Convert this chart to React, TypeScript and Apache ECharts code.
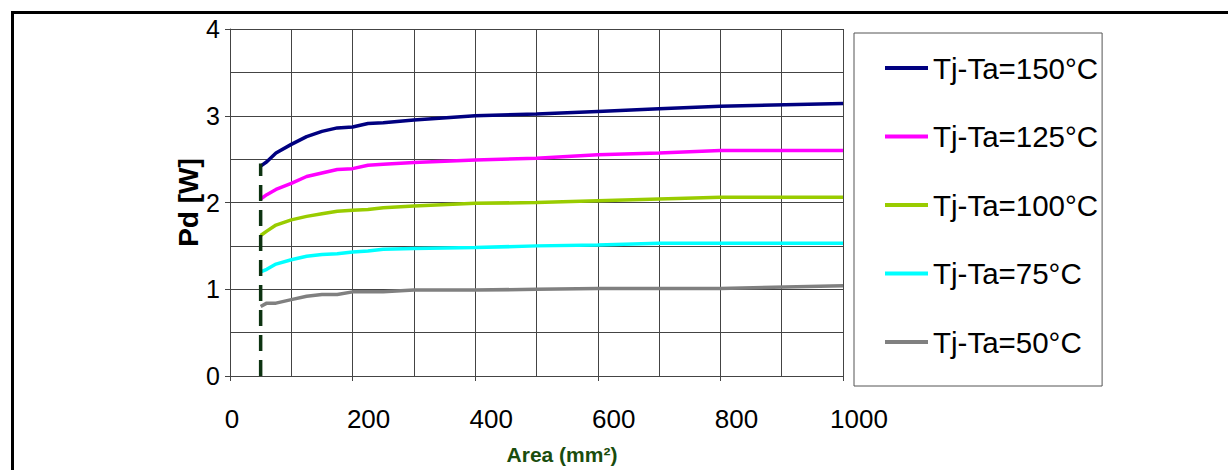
import React, { useEffect, useRef } from "react";
import * as echarts from "echarts";

const areas = [50, 60, 75, 100, 125, 150, 175, 200, 225, 250, 300, 400, 500, 600, 700, 800, 1000];
const pd150 = [2.42, 2.47, 2.57, 2.67, 2.76, 2.82, 2.86, 2.87, 2.91, 2.92, 2.95, 3.0, 3.02, 3.05, 3.08, 3.11, 3.14];
const pd125 = [2.04, 2.09, 2.15, 2.22, 2.3, 2.34, 2.38, 2.39, 2.43, 2.44, 2.46, 2.49, 2.51, 2.55, 2.57, 2.6, 2.6];
const pd100 = [1.62, 1.67, 1.74, 1.8, 1.84, 1.87, 1.9, 1.91, 1.92, 1.94, 1.96, 1.99, 2.0, 2.02, 2.04, 2.06, 2.06];
const pd75 = [1.2, 1.23, 1.29, 1.34, 1.38, 1.4, 1.41, 1.43, 1.44, 1.46, 1.47, 1.48, 1.5, 1.51, 1.53, 1.53, 1.53];
const pd50 = [0.8, 0.84, 0.84, 0.88, 0.92, 0.94, 0.94, 0.97, 0.97, 0.97, 0.99, 0.99, 1.0, 1.01, 1.01, 1.01, 1.04];
const seriesNames = ["Tj-Ta=150°C", "Tj-Ta=125°C", "Tj-Ta=100°C", "Tj-Ta=75°C", "Tj-Ta=50°C"];
const seriesColors = ["#000080", "#FF00FF", "#99CC00", "#00FFFF", "#808080"];
const markerArea = [50, 50];
const markerPd = [0, 2.45];

const FONT = "'Liberation Sans', Arial, sans-serif";

export default function App() {
  const ref = useRef<HTMLDivElement>(null);
  useEffect(() => {
    if (!ref.current) return;
    const chart = echarts.init(ref.current, null, { renderer: "svg", width: 1228, height: 470 });
    const values = [pd150, pd125, pd100, pd75, pd50];
    const lines = values.map((vals, i) => ({
      name: seriesNames[i],
      type: "line",
      data: areas.map((a, j) => [a, vals[j]]),
      symbol: "none",
      lineStyle: { color: seriesColors[i], width: 3.5 },
      itemStyle: { color: seriesColors[i] },
      z: 3,
    }));
    chart.setOption({
      animation: false,
      backgroundColor: "#ffffff",
      textStyle: { fontFamily: FONT },
      grid: { left: 230, top: 29, width: 613, height: 356, containLabel: false },
      legend: {
        data: seriesNames.map((n) => ({ name: n, icon: "rect" })),
        orient: "vertical",
        left: 854,
        top: 33,
        padding: [20, 4, 29, 31],
        itemWidth: 43,
        itemHeight: 4,
        itemGap: 38.5,
        borderColor: "#555",
        borderWidth: 1,
        textStyle: { fontSize: 29.5, color: "#000", fontFamily: FONT },
      },
      xAxis: {
        type: "value",
        min: 0,
        max: 1000,
        interval: 200,
        name: "Area (mm²)",
        nameLocation: "middle",
        nameGap: 68,
        nameTextStyle: { fontSize: 21, fontWeight: "bold", color: "#1a4d0d", fontFamily: FONT, padding: [0, 0, 0, 51] },
        axisLine: { show: true, lineStyle: { color: "#444", width: 1 } },
        axisTick: { show: true, length: 5, lineStyle: { color: "#444" } },
        axisLabel: {
          fontSize: 26,
          color: "#000",
          margin: 30,
          formatter: (v: number) => (v === 0 ? "{a|0}" : "{b|" + v + "}"),
          rich: {
            a: { fontSize: 26, color: "#000", fontFamily: FONT, padding: [0, 0, 0, 4] },
            b: { fontSize: 26, color: "#000", fontFamily: FONT, padding: [0, 0, 0, 32] },
          },
        },
        splitLine: { show: true, lineStyle: { color: "#444", width: 1 } },
        minorTick: { show: false, splitNumber: 2 },
        minorSplitLine: { show: true, lineStyle: { color: "#444", width: 1 } },
      },
      yAxis: {
        type: "value",
        min: 0,
        max: 4,
        interval: 1,
        name: "Pd [W]",
        nameLocation: "middle",
        nameGap: 27,
        nameRotate: 90,
        nameTextStyle: { fontSize: 28, fontWeight: "bold", color: "#000", fontFamily: FONT },
        axisLine: { show: true, lineStyle: { color: "#444", width: 1 } },
        axisTick: { show: true, length: 5, lineStyle: { color: "#444" } },
        axisLabel: { fontSize: 25, color: "#000", margin: 10, fontFamily: FONT },
        splitLine: { show: true, lineStyle: { color: "#444", width: 1 } },
        minorTick: { show: false, splitNumber: 2 },
        minorSplitLine: { show: true, lineStyle: { color: "#444", width: 1 } },
      },
      graphic: [
        {
          type: "rect",
          left: 10,
          top: 10,
          shape: { x: 0, y: 0, width: 1240, height: 480 },
          style: { fill: "none", stroke: "#000", lineWidth: 3 },
          silent: true,
        },
      ],
      series: [
        ...lines,
        {
          name: "marker",
          type: "line",
          data: markerArea.map((a, j) => [a, markerPd[j]]),
          symbol: "none",
          lineStyle: { color: "#0d3311", width: 3.5, type: [16, 9] },
          z: 4,
        },
      ],
    });
    return () => chart.dispose();
  }, []);
  return <div ref={ref} style={{ position: "fixed", left: 0, top: 0, width: 1228, height: 470 }} />;
}
